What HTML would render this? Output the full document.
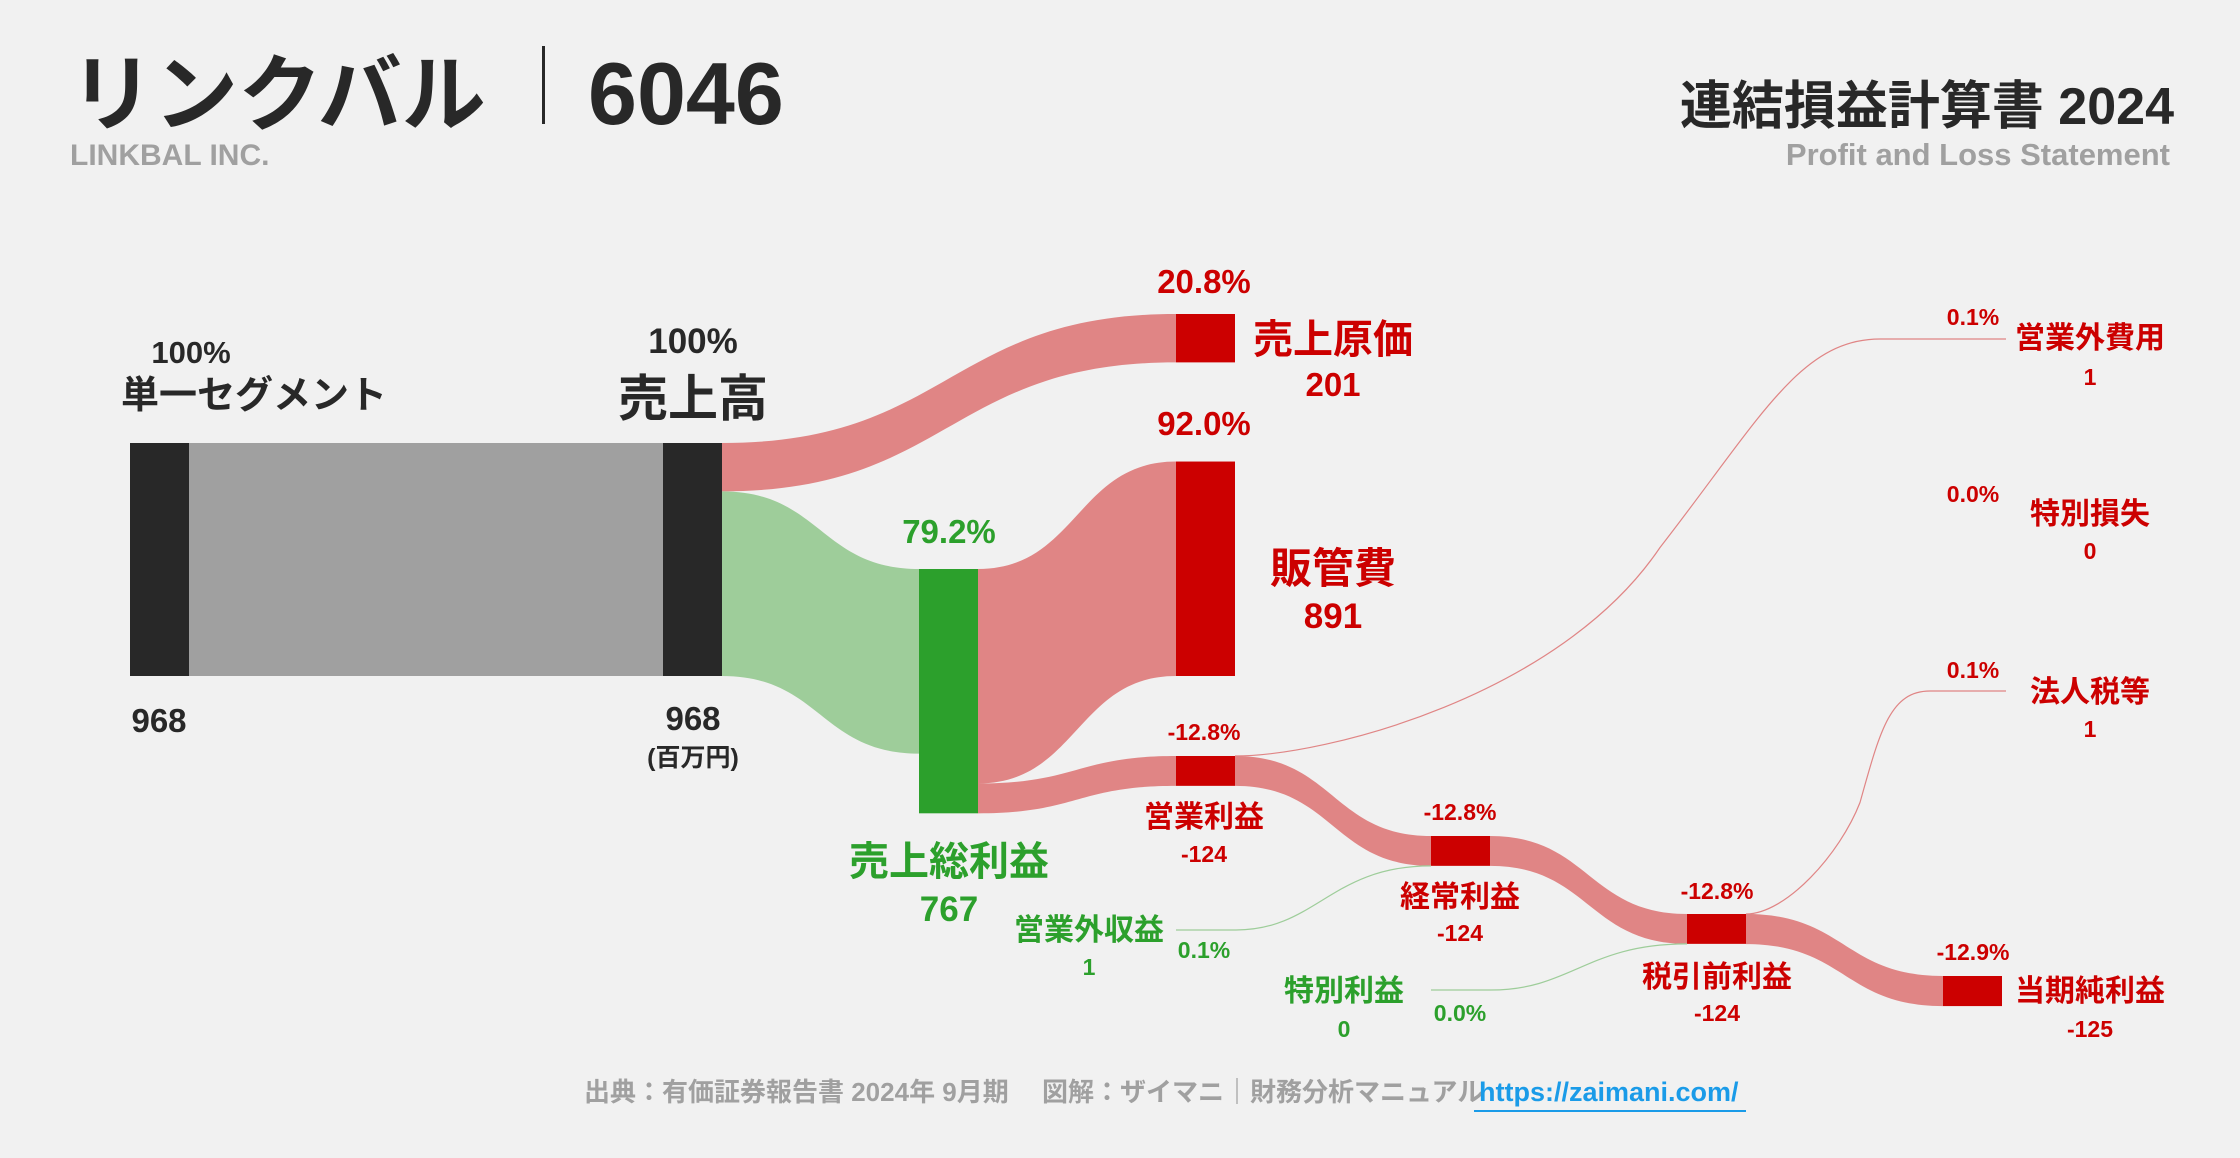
<!DOCTYPE html>
<html><head><meta charset="utf-8">
<style>
html,body{margin:0;padding:0;background:#f1f1f1;}
body{width:2240px;height:1153px;overflow:hidden;font-family:"Liberation Sans","Noto Sans CJK JP",sans-serif;}
svg text{font-family:"Liberation Sans","Noto Sans CJK JP",sans-serif;font-weight:bold;}
</style></head>
<body>
<svg id="chart" width="2240" height="1153" viewBox="0 0 2240 1153" xmlns="http://www.w3.org/2000/svg">
<rect x="0" y="0" width="2240" height="1153" fill="#f1f1f1"/>
<g>
<text x="70" y="124" font-size="84" fill="#282828">リンクバル</text>
<rect x="542" y="46" width="3" height="78" fill="#282828"/>
<text x="588" y="124" font-size="88" fill="#282828">6046</text>
<text x="70" y="165" font-size="30" fill="#a0a0a0">LINKBAL INC.</text>
<text x="2174" y="124" font-size="52" fill="#282828" text-anchor="end">連結損益計算書 2024</text>
<text x="2170" y="165" font-size="31" fill="#a0a0a0" text-anchor="end">Profit and Loss Statement</text>
</g>
<g id="flows"></g>
<g id="nodes"></g>
<g text-anchor="middle">
<text x="191" y="363" font-size="31" fill="#282828">100%</text>
<text x="254" y="408" font-size="38" fill="#282828">単一セグメント</text>
<text x="159" y="732" font-size="33" fill="#282828">968</text>
<text x="693" y="353" font-size="35" fill="#282828">100%</text>
<text x="693" y="416" font-size="50" fill="#282828">売上高</text>
<text x="693" y="730" font-size="33" fill="#282828">968</text>
<text x="693" y="766" font-size="25" fill="#282828">(百万円)</text>
<text x="1204" y="293" font-size="33" fill="#cc0000">20.8%</text>
<text x="1333" y="353" font-size="40" fill="#cc0000">売上原価</text>
<text x="1333" y="396" font-size="33" fill="#cc0000">201</text>
<text x="1204" y="435" font-size="33" fill="#cc0000">92.0%</text>
<text x="1333" y="583" font-size="42" fill="#cc0000">販管費</text>
<text x="1333" y="628" font-size="35" fill="#cc0000">891</text>
<text x="949" y="543" font-size="33" fill="#2ca02c">79.2%</text>
<text x="949" y="875" font-size="40" fill="#2ca02c">売上総利益</text>
<text x="949" y="921" font-size="35" fill="#2ca02c">767</text>
<text x="1204" y="740" font-size="23" fill="#cc0000">-12.8%</text>
<text x="1204" y="827" font-size="30" fill="#cc0000">営業利益</text>
<text x="1204" y="862" font-size="23" fill="#cc0000">-124</text>
<text x="1973" y="325" font-size="23" fill="#cc0000">0.1%</text>
<text x="2090" y="348" font-size="30" fill="#cc0000">営業外費用</text>
<text x="2090" y="385" font-size="23" fill="#cc0000">1</text>
<text x="1973" y="502" font-size="23" fill="#cc0000">0.0%</text>
<text x="2090" y="524" font-size="30" fill="#cc0000">特別損失</text>
<text x="2090" y="559" font-size="23" fill="#cc0000">0</text>
<text x="1973" y="678" font-size="23" fill="#cc0000">0.1%</text>
<text x="2090" y="702" font-size="30" fill="#cc0000">法人税等</text>
<text x="2090" y="737" font-size="23" fill="#cc0000">1</text>
<text x="1460" y="820" font-size="23" fill="#cc0000">-12.8%</text>
<text x="1460" y="907" font-size="30" fill="#cc0000">経常利益</text>
<text x="1460" y="941" font-size="23" fill="#cc0000">-124</text>
<text x="1089" y="940" font-size="30" fill="#2ca02c">営業外収益</text>
<text x="1089" y="975" font-size="23" fill="#2ca02c">1</text>
<text x="1204" y="958" font-size="23" fill="#2ca02c">0.1%</text>
<text x="1344" y="1001" font-size="30" fill="#2ca02c">特別利益</text>
<text x="1344" y="1037" font-size="23" fill="#2ca02c">0</text>
<text x="1460" y="1021" font-size="23" fill="#2ca02c">0.0%</text>
<text x="1717" y="899" font-size="23" fill="#cc0000">-12.8%</text>
<text x="1717" y="987" font-size="30" fill="#cc0000">税引前利益</text>
<text x="1717" y="1021" font-size="23" fill="#cc0000">-124</text>
<text x="1973" y="960" font-size="23" fill="#cc0000">-12.9%</text>
<text x="2090" y="1001" font-size="30" fill="#cc0000">当期純利益</text>
<text x="2090" y="1037" font-size="23" fill="#cc0000">-125</text>
</g>
<g>
<text x="584" y="1101" font-size="26" fill="#a0a0a0">出典：有価証券報告書 2024年 9月期　 図解：ザイマニ｜財務分析マニュアル</text>
<text x="1479" y="1101" font-size="27" fill="#1a9be8">https://zaimani.com/</text>
<rect x="1474" y="1110" width="272" height="2" fill="#1a9be8"/>
</g>
</svg>
<script>
// values in millions of yen
const revenue = 968;
const cogs = 201;
const grossProfit = 767;
const sga = 891;
const operatingProfit = -124;
const nonOpIncome = 1;
const nonOpExpense = 1;
const ordinaryProfit = -124;
const specialGain = 0;
const specialLoss = 0;
const pretaxProfit = -124;
const incomeTax = 1;
const netProfit = -125;

const NS = 'http://www.w3.org/2000/svg';
const k = 233 / revenue; // px per unit
const h = v => Math.max(Math.abs(v) * k, 0);
const colX = [130, 663, 919, 1176, 1431, 1687, 1943];
const W = 59;
const flowsG = document.getElementById('flows');
const nodesG = document.getElementById('nodes');

function band(x0, t0, x1, t1, th, fill, name) {
  const m = (x0 + x1) / 2;
  const p = document.createElementNS(NS, 'path');
  p.setAttribute('d', `M${x0},${t0} C${m},${t0} ${m},${t1} ${x1},${t1} L${x1},${t1 + th} C${m},${t1 + th} ${m},${t0 + th} ${x0},${t0 + th} Z`);
  p.setAttribute('fill', fill);
  
  
  flowsG.appendChild(p);
}
function line(pts, stroke, w, name) {
  const p = document.createElementNS(NS, 'path');
  p.setAttribute('d', pts);
  p.setAttribute('fill', 'none');
  p.setAttribute('stroke', stroke);
  p.setAttribute('stroke-width', w);
  
  
  flowsG.appendChild(p);
}
function node(x, y, hh, fill, name) {
  const r = document.createElementNS(NS, 'rect');
  r.setAttribute('x', x); r.setAttribute('y', y);
  r.setAttribute('width', W); r.setAttribute('height', Math.max(hh, 1));
  r.setAttribute('fill', fill);
  
  
  nodesG.appendChild(r);
}
const PINK = '#e08585', RED = '#cc0000', GREEN = '#2ca02c', LGREEN = '#9ecd9a';

// layout tops
const revTop = 443;
const cogsTop = 314;
const grossTop = 569;
const sgaTop = revTop + h(revenue) - h(sga);
const opTop = 756, ordTop = 836, preTop = 914, netTop = 976;

// segment -> revenue
const g = document.createElementNS(NS, 'rect');
g.setAttribute('x', colX[0] + W); g.setAttribute('y', revTop);
g.setAttribute('width', colX[1] - colX[0] - W); g.setAttribute('height', h(revenue));
g.setAttribute('fill', '#a0a0a0');


flowsG.appendChild(g);

band(colX[1] + W, revTop, colX[3], cogsTop, h(cogs), PINK, 'flow-cogs');
band(colX[1] + W, revTop + h(cogs), colX[2], grossTop, h(grossProfit), LGREEN, 'flow-gross-profit');
band(colX[2] + W, grossTop, colX[3], sgaTop, h(sga), PINK, 'flow-sga');
band(colX[2] + W, grossTop + h(sga), colX[3], opTop, h(operatingProfit), PINK, 'flow-operating');
band(colX[3] + W, opTop, colX[4], ordTop, h(ordinaryProfit), PINK, 'flow-ordinary');
band(colX[4] + W, ordTop, colX[5], preTop, h(pretaxProfit), PINK, 'flow-pretax');
band(colX[5] + W, preTop, colX[6], netTop, h(netProfit), PINK, 'flow-net');

// thin lines
const neY = 339, taxY = 691;
line(`M${colX[3]+W},${opTop} C${colX[3]+W+90},${opTop} ${1560},${opTop-60} ${1660},${(opTop+neY)/2} C${1760},${neY+80} ${1800},${neY} ${1880},${neY} L${2006},${neY}`, PINK, Math.max(h(nonOpExpense),1.2), 'flow-nonop-expense');
line(`M${colX[3]},${930} L${colX[3]+60},${930} C${colX[3]+140},${930} ${colX[4]-100},${ordTop+h(ordinaryProfit)} ${colX[4]},${ordTop+h(ordinaryProfit)}`, LGREEN, Math.max(h(nonOpIncome),1.2), 'flow-nonop-income');
line(`M${colX[4]},${990} L${colX[4]+60},${990} C${colX[4]+140},${990} ${colX[5]-100},${preTop+h(pretaxProfit)} ${colX[5]},${preTop+h(pretaxProfit)}`, LGREEN, Math.max(h(specialGain),1.2), 'flow-special-gain');
line(`M${colX[5]+W},${preTop} C${colX[5]+W+40},${preTop} ${1840},${preTop-60} ${1860},${(preTop+taxY)/2} C${1880},${taxY+40} ${1890},${taxY} ${1930},${taxY} L${2006},${taxY}`, PINK, Math.max(h(incomeTax),1.2), 'flow-tax');

// nodes
node(colX[0], revTop, h(revenue), '#282828', 'node-segment');
node(colX[1], revTop, h(revenue), '#282828', 'node-revenue');
node(colX[3], cogsTop, h(cogs), RED, 'node-cogs');
node(colX[2], grossTop, h(sga) + h(operatingProfit), GREEN, 'node-gross-profit');
node(colX[3], sgaTop, h(sga), RED, 'node-sga');
node(colX[3], opTop, h(operatingProfit), RED, 'node-operating-profit');
node(colX[4], ordTop, h(ordinaryProfit), RED, 'node-ordinary-profit');
node(colX[5], preTop, h(pretaxProfit), RED, 'node-pretax-profit');
node(colX[6], netTop, h(netProfit), RED, 'node-net-profit');
</script>
</body></html>
